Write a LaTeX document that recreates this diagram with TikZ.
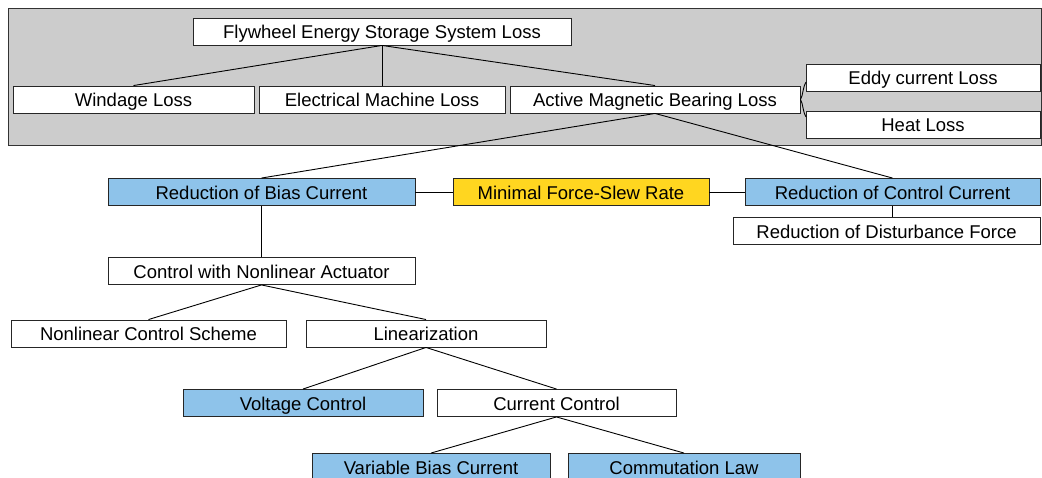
\documentclass[tikz,border=0pt]{standalone}
\usepackage{fontspec}
\setmainfont{Liberation Sans}
\definecolor{bggray}{RGB}{204,204,204}
\definecolor{boxblue}{RGB}{142,195,234}
\definecolor{boxyellow}{RGB}{255,214,32}
\begin{document}
\begin{tikzpicture}[x=1pt,y=-1pt,
  lbox/.style={draw=black!85,line width=0.9pt,fill=white,rectangle,inner sep=0pt,
    minimum height=27pt,text height=21pt,text depth=6pt,font=\fontsize{18.5}{20}\selectfont},
  bluebox/.style={lbox,fill=boxblue},
  yelbox/.style={lbox,fill=boxyellow},
  conn/.style={draw=black,line width=0.9pt}]
\useasboundingbox (0,0) rectangle (1042,478);
\clip (0,0) rectangle (1042,478);
\fill[bggray,draw=black!80,line width=0.9pt] (8,8) rectangle (1041,145);
% top group
\node[lbox,minimum width=378pt] (fess) at (382,31.5) {Flywheel Energy Storage System Loss};
\node[lbox,minimum width=241pt] (wind) at (133.5,99.5) {Windage Loss};
\node[lbox,minimum width=246pt] (elec) at (382,99.5) {Electrical Machine Loss};
\node[lbox,minimum width=290pt] (ambl) at (655,99.5) {Active Magnetic Bearing Loss};
\node[lbox,minimum width=234pt] (eddy) at (923,77.5) {Eddy current Loss};
\node[lbox,minimum width=234pt] (heat) at (923,124.5) {Heat Loss};
\coordinate (eddyin) at (806,82);
\coordinate (heatin) at (806,117);
\draw[conn] (fess.south) -- (wind.north);
\draw[conn] (fess.south) -- (elec.north);
\draw[conn] (fess.south) -- (ambl.north);
\draw[conn] (ambl.east) .. controls (803,96) and (803,86) .. (eddyin);
\draw[conn] (ambl.east) .. controls (803,103) and (803,113) .. (heatin);
% middle row
\node[bluebox,minimum width=307pt] (rbc) at (261.5,192) {Reduction of Bias Current};
\node[yelbox,minimum width=256pt] (mfsr) at (581,192) {Minimal Force-Slew Rate};
\node[bluebox,minimum width=295pt] (rcc) at (892.5,192) {Reduction of Control Current};
\node[lbox,minimum width=307pt] (rdf) at (886.5,231) {Reduction of Disturbance Force};
\draw[conn] (ambl.south) -- (rbc.north);
\draw[conn] (ambl.south) -- (rcc.north);
\draw[conn] (rbc.east) -- (mfsr.west);
\draw[conn] (mfsr.east) -- (rcc.west);
\draw[conn] (rcc.south) -- (rcc.south |- rdf.north);
% lower tree
\node[lbox,minimum width=307pt] (cna) at (261.5,271) {Control with Nonlinear Actuator};
\node[lbox,minimum width=275pt] (ncs) at (148.5,333.5) {Nonlinear Control Scheme};
\node[lbox,minimum width=240pt] (lin) at (426,333.5) {Linearization};
\node[bluebox,minimum width=240pt] (vc) at (303,403) {Voltage Control};
\node[lbox,minimum width=239pt] (cc) at (556.5,403) {Current Control};
\node[bluebox,minimum width=238pt] (vbc) at (431,467) {Variable Bias Current};
\node[bluebox,minimum width=232pt] (cl) at (684,467) {Commutation Law};
\draw[conn] (rbc.south) -- (cna.north);
\draw[conn] (cna.south) -- (ncs.north);
\draw[conn] (cna.south) -- (lin.north);
\draw[conn] (lin.south) -- (vc.north);
\draw[conn] (lin.south) -- (cc.north);
\draw[conn] (cc.south) -- (vbc.north);
\draw[conn] (cc.south) -- (cl.north);
\end{tikzpicture}
\end{document}
